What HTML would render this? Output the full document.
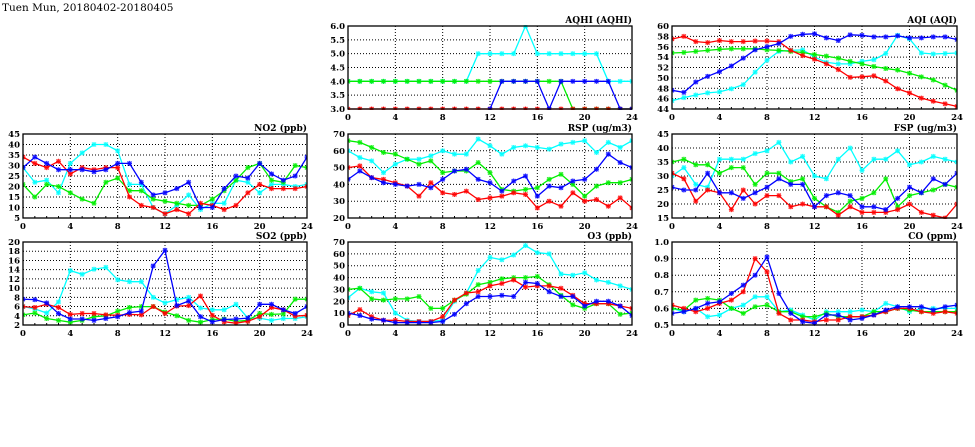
<!DOCTYPE html>
<html><head><meta charset="utf-8"><style>
html,body{margin:0;padding:0;background:#fff;width:975px;height:447px;overflow:hidden}
svg text{font-family:"DejaVu Serif","Liberation Serif",serif;font-weight:bold;fill:#000}
</style></head><body>
<svg id="s" width="975" height="447" xmlns="http://www.w3.org/2000/svg">
<text x="2" y="11" style="font-size:10.5px;font-weight:normal">Tuen Mun, 20180402-20180405</text>
</svg>
<script>
var C={c:'#00ffff',g:'#00ee00',r:'#ff0000',b:'#0000ff'};
var N=null;
var P=[
{t:'AQHI (AQHI)',x:348,y:26,w:284,h:83,min:3,max:6,step:0.5,dec:1,d:{
c:[4,4,4,4,4,4,4,4,4,4,4,5,5,5,5,6,5,5,5,5,5,5,4,4,4],
g:[4,4,4,4,4,4,4,4,4,4,4,4,4,4,4,4,4,4,4,3,3,3,3,3,3],
b:[N,N,N,N,N,N,N,N,N,N,N,N,3,4,4,4,4,3,4,4,4,4,4,3,3],
r:[3,3,3,3,3,3,3,3,3,3,3,3,3,3,3,3,3,3,3,3,3,3,3,3,3]}},
{t:'AQI (AQI)',x:672,y:26,w:285,h:83,min:44,max:60,step:2,dec:0,d:{
c:[45.6,46.2,46.7,47.1,47.3,47.9,48.7,51.1,53.4,55.1,55.3,55.4,54,53,52.7,52.7,53.2,53.5,54.7,58.2,57.5,54.8,54.6,54.7,54.8],
g:[54.8,54.9,55.1,55.3,55.5,55.6,55.6,55.6,55.4,55.3,55.1,54.9,54.5,54.2,53.8,53.2,52.7,52.2,51.8,51.5,50.9,50.2,49.6,48.6,47.6],
r:[57.5,58,57,56.8,57.2,57,57,57.1,57.1,57,55.3,54.3,53.6,52.7,51.6,50.1,50.2,50.4,49.4,47.9,47.1,46.1,45.5,45,44.5],
b:[47.6,47.2,49.2,50.3,51.2,52.3,53.8,55.4,56,56.6,58,58.4,58.5,57.7,57.2,58.3,58.2,57.9,57.9,58.1,57.7,57.7,57.9,57.9,57.4]}},
{t:'NO2 (ppb)',x:23,y:134,w:284,h:84,min:5,max:45,step:5,dec:0,d:{
c:[29,22,23,17,31,36,40,40,37,21,21,10,7,11,16,9,12,12,23,22,17,21,21,20,21],
g:[21,15,21,20,17,14,12,22,24,18,18,14,13,12,11,11,14,18,23,29,31,23,22,30,29],
r:[34,31,29,32,26,29,28,29,29,15,11,10,7,9,7,12,11,9,11,17,21,19,19,19,20],
b:[29,34,31,28,28,28,27,28,31,31,22,16,17,19,22,10,10,19,25,24,31,26,23,25,34]}},
{t:'RSP (ug/m3)',x:348,y:134,w:284,h:84,min:20,max:70,step:10,dec:0,d:{
c:[60,56,54,47,52,55,55,57,60,58,58,67,63,58,62,63,62,61,64,65,66,59,65,62,66],
g:[66,65,62,59,58,55,52,54,47,48,48,53,47,37,36,37,38,43,46,40,33,39,41,41,43],
r:[50,51,44,43,41,39,33,41,35,34,36,31,32,33,35,34,26,30,27,35,30,31,27,32,26],
b:[43,48,44,41,40,39,40,38,43,48,49,43,41,36,42,45,33,39,38,42,43,49,58,53,50]}},
{t:'FSP (ug/m3)',x:672,y:134,w:285,h:84,min:15,max:45,step:5,dec:0,d:{
c:[30,33,27,26,36,36,36,38,39,42,35,37,30,29,36,40,32,36,36,39,34,35,37,36,35],
g:[35,36,34,34,31,33,33,27,31,31,28,29,22,19,17,21,22,24,29,19,23,24,25,27,26],
r:[31,29,21,25,24,18,25,20,23,23,19,20,19,19,16,19,17,17,17,18,20,17,16,15,20],
b:[26,25,25,31,24,24,22,24,26,29,27,27,19,23,24,23,19,19,18,22,26,24,29,27,31]}},
{t:'SO2 (ppb)',x:23,y:242,w:284,h:83,min:2,max:20,step:2,dec:0,d:{
c:[6,5.5,4.6,7,13.8,13,14.1,14.5,11.8,11.4,11.4,8,6.8,7.5,8,5.7,5.3,5.3,6.5,3.5,3.5,3,3.4,3.4,3.8],
g:[4.2,4.6,3.4,3,2.6,3,3.8,4,5,5.8,6,6,4.8,4,3,2.6,3.2,3.3,2.8,3,4.5,4.3,4.4,7.6,7.6],
r:[6,5.8,6.5,5.8,4.3,4.5,4.5,4.2,4.1,4.3,4.2,6,4.5,6.1,6.2,8.3,4.1,2.7,2.4,2.8,3.8,5.8,5.3,3.9,4.1],
b:[7.6,7.5,6.8,4.5,3.3,3.3,3,3.4,3.8,4.7,5,14.8,18.2,6.2,7.2,3.8,2.7,3.2,3.3,3.5,6.5,6.5,5.3,4.5,6]}},
{t:'O3 (ppb)',x:348,y:242,w:284,h:83,min:0,max:70,step:10,dec:0,d:{
c:[23,31,28,27,10,4,3,3,4,20,27,46,57,55,59,67,61,60,43,42,44,38,36,33,30],
g:[30,31,22,21,22,22,24,14,14,21,26,34,36,39,40,40,41,34,25,17,14,18,18,9,10],
r:[8,13,7,4,4,3,3,3,7,21,27,28,33,35,38,32,33,33,31,25,18,18,18,16,14],
b:[10,8,5,4,2,2,2,2,3,9,18,24,24,25,24,36,35,28,24,24,16,20,20,16,8]}},
{t:'CO (ppm)',x:672,y:242,w:285,h:83,min:0.5,max:1.0,step:0.1,dec:1,d:{
c:[.6,.58,.6,.55,.56,.6,.62,.67,.67,.58,.59,.56,.53,.58,.58,.58,.59,.58,.63,.61,.58,.6,.6,.6,.6],
g:[.6,.59,.65,.66,.65,.6,.57,.61,.62,.58,.58,.55,.55,.57,.55,.55,.55,.58,.58,.6,.59,.58,.58,.58,.58],
r:[.62,.6,.58,.6,.63,.65,.7,.9,.82,.57,.53,.53,.52,.53,.53,.55,.55,.56,.58,.6,.6,.58,.57,.58,.57],
b:[.57,.58,.6,.63,.64,.69,.74,.8,.91,.69,.57,.52,.51,.56,.56,.53,.54,.56,.59,.61,.61,.61,.59,.61,.62]}}
];
var h='';
P.forEach(function(p){
 var X=function(i){return p.x+i*p.w/24},Y=function(v){return p.y+p.h-(v-p.min)/(p.max-p.min)*p.h};
 h+='<text x="'+(p.x+p.w)+'" y="'+(p.y-3)+'" text-anchor="end" style="font-size:9px">'+p.t+'</text>';
 var n=Math.round((p.max-p.min)/p.step);
 for(var k=0;k<=n;k++){var v=p.min+k*p.step,y=Y(v);
  if(k>0&&k<n)h+='<line x1="'+p.x+'" x2="'+(p.x+p.w)+'" y1="'+y+'" y2="'+y+'" stroke="#000" stroke-width="1" stroke-dasharray="1,2"/>';
  h+='<text x="'+(p.x-3)+'" y="'+(y+3)+'" text-anchor="end" style="font-size:8.5px">'+v.toFixed(p.dec)+'</text>';}
 for(var t=0;t<=24;t+=4){var x=X(t);
  if(t>0&&t<24)h+='<line x1="'+x+'" x2="'+x+'" y1="'+p.y+'" y2="'+(p.y+p.h)+'" stroke="#000" stroke-width="1" stroke-dasharray="1,2"/>';
  h+='<text x="'+x+'" y="'+(p.y+p.h+11)+'" text-anchor="middle" style="font-size:8.5px">'+t+'</text>';}
 for(var i=1;i<24;i++){h+='<line x1="'+X(i)+'" x2="'+X(i)+'" y1="'+(p.y+p.h)+'" y2="'+(p.y+p.h-2)+'" stroke="#000"/>';}
 h+='<clipPath id="cp'+p.x+p.y+'"><rect x="'+p.x+'" y="'+(p.y-1)+'" width="'+p.w+'" height="'+(p.h+2)+'"/></clipPath><g clip-path="url(#cp'+p.x+p.y+')">';
 ['c','g','r','b'].forEach(function(s){var a=p.d[s],pts=[],m='';
  a.forEach(function(v,i){if(v===null)return;var x=X(i),y=Y(v);pts.push(x.toFixed(1)+','+y.toFixed(1));
   m+='M'+(x-2)+','+(y-2)+'L'+(x+2)+','+(y+2)+'M'+(x-2)+','+(y+2)+'L'+(x+2)+','+(y-2)+'M'+(x-2.5)+','+y+'L'+(x+2.5)+','+y+'M'+x+','+(y-2.5)+'L'+x+','+(y+2.5);});
  h+='<polyline points="'+pts.join(' ')+'" fill="none" stroke="'+C[s]+'" stroke-width="1.3"/>';
  h+='<path d="'+m+'" stroke="'+C[s]+'" stroke-width="1.2" fill="none" opacity="0.85"/>';});
 h+='</g><rect x="'+p.x+'" y="'+p.y+'" width="'+p.w+'" height="'+p.h+'" fill="none" stroke="#000" stroke-width="1.3"/>';
});
document.getElementById('s').insertAdjacentHTML('beforeend',h);
</script>
</body></html>
